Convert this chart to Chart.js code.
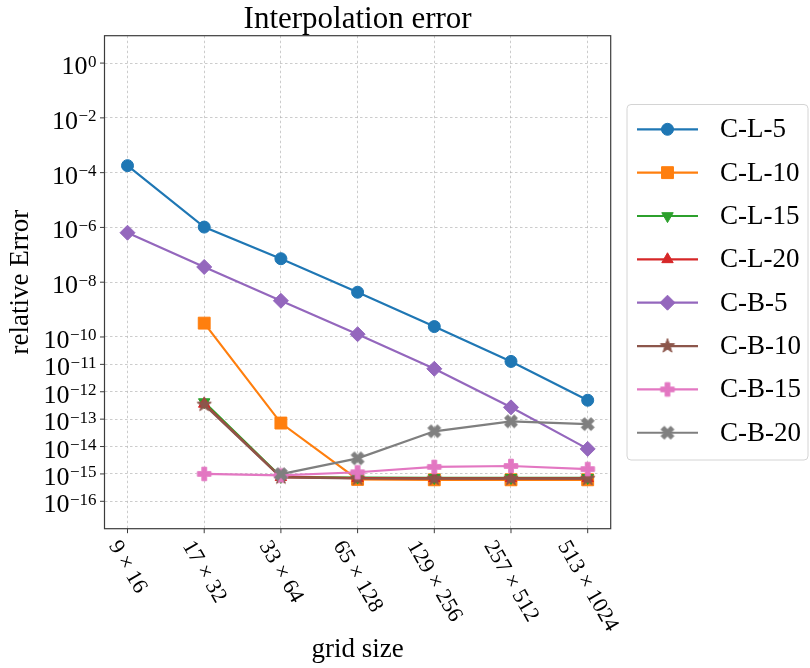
<!DOCTYPE html>
<html>
<head>
<meta charset="utf-8">
<script src="https://cdn.jsdelivr.net/npm/chart.js@4/dist/chart.umd.min.js"></script>
<style>
  html, body { margin: 0; padding: 0; background: #ffffff; }
  #wrap { width: 810px; height: 668px; }
</style>
</head>
<body>
<div id="wrap"><canvas id="chart" width="810" height="668"></canvas></div>
<script>
// Grid sizes along the x axis
const gridSizes = ['9 × 16', '17 × 32', '33 × 64', '65 × 128', '129 × 256', '257 × 512', '513 × 1024'];

// Relative interpolation error per method (null = not computed)
const errCL5  = [1.8e-4, 1.03e-6, 7.2e-8, 4.3e-9, 2.4e-10, 1.28e-11, 4.9e-13];
const errCL10 = [null, 3.2e-10, 7.2e-14, 6.3e-16, 6.1e-16, 6.1e-16, 6.1e-16];
const errCL15 = [null, 4.2e-13, 7.8e-16, 7.4e-16, 7.2e-16, 7.2e-16, 7.2e-16];
const errCL20 = [null, 3.6e-13, 7.6e-16, 7.0e-16, 6.9e-16, 6.9e-16, 6.9e-16];
const errCB5  = [6.4e-7, 3.6e-8, 2.1e-9, 1.26e-10, 6.9e-12, 2.7e-13, 8.2e-15];
const errCB10 = [null, 3.4e-13, 7.5e-16, 6.8e-16, 6.7e-16, 6.7e-16, 6.7e-16];
const errCB15 = [null, 1.0e-15, 8.8e-16, 1.15e-15, 1.8e-15, 1.95e-15, 1.5e-15];
const errCB20 = [null, null, 9.8e-16, 3.7e-15, 3.6e-14, 8.3e-14, 6.6e-14];

const seriesNames = ['C-L-5', 'C-L-10', 'C-L-15', 'C-L-20', 'C-B-5', 'C-B-10', 'C-B-15', 'C-B-20'];
const seriesValues = [errCL5, errCL10, errCL15, errCL20, errCB5, errCB10, errCB15, errCB20];

// Decade exponents that carry a labelled tick on the y axis
const yTickExponents = [0, -2, -4, -6, -8, -10, -11, -12, -13, -14, -15, -16];

const colors = ['#1f77b4', '#ff7f0e', '#2ca02c', '#d62728', '#9467bd', '#8c564b', '#e377c2', '#7f7f7f'];
const SERIF = '"Liberation Serif", "DejaVu Serif", serif';

// Filled marker images for shapes that have no built-in point style
function markerCanvas(kind, color, r) {
  const s = Math.ceil(r * 2 + 4) + (Math.ceil(r * 2 + 4) % 2);
  const c = document.createElement('canvas');
  c.width = s; c.height = s;
  const g = c.getContext('2d');
  g.translate(s / 2, s / 2);
  g.fillStyle = color; g.strokeStyle = color; g.lineWidth = 1; g.lineJoin = 'miter';
  g.beginPath();
  if (kind === 'star') {
    for (let i = 0; i < 10; i++) {
      const rr = i % 2 ? r * 0.40 : r;
      const a = -Math.PI / 2 + i * Math.PI / 5;
      g.lineTo(rr * Math.cos(a), rr * Math.sin(a));
    }
  } else {
    const w = r * 0.34;
    const pts = [[-w, -r], [w, -r], [w, -w], [r, -w], [r, w], [w, w], [w, r], [-w, r], [-w, w], [-r, w], [-r, -w], [-w, -w]];
    const rot = kind === 'x' ? Math.PI / 4 : 0;
    pts.forEach(([px, py]) => {
      g.lineTo(px * Math.cos(rot) - py * Math.sin(rot), px * Math.sin(rot) + py * Math.cos(rot));
    });
  }
  g.closePath(); g.fill(); g.stroke();
  return c;
}

const markerStyles = [
  { style: 'circle', radius: 6, rotation: 0 },
  { style: 'rect', radius: 8.4, rotation: 0 },
  { style: 'triangle', radius: 6.6, rotation: 180 },
  { style: 'triangle', radius: 6.6, rotation: 0 },
  { style: 'rectRot', radius: 7.5, rotation: 0 },
  { style: markerCanvas('star', colors[5], 7.5), radius: 6, rotation: 0 },
  { style: markerCanvas('plus', colors[6], 6.8), radius: 6, rotation: 0 },
  { style: markerCanvas('x', colors[7], 6.8), radius: 6, rotation: 0 }
];

const datasets = seriesValues.map((vals, k) => ({
  label: seriesNames[k],
  data: vals.map((v, i) => (v == null ? null : { x: i, y: v })).filter(p => p !== null),
  borderColor: colors[k],
  backgroundColor: colors[k],
  borderWidth: 2.2,
  pointStyle: markerStyles[k].style,
  pointRadius: markerStyles[k].radius,
  pointRotation: markerStyles[k].rotation,
  pointBorderWidth: 1,
  pointBorderColor: colors[k],
  pointBackgroundColor: colors[k],
  tension: 0,
  order: seriesNames.length - k
}));

function drawSuperLabel(ctx, base, exp, xRight, y, baseSize, expSize) {
  ctx.textAlign = 'right';
  ctx.textBaseline = 'alphabetic';
  ctx.font = expSize + 'px ' + SERIF;
  const ew = ctx.measureText(exp).width;
  ctx.fillText(exp, xRight, y + 3.5);
  ctx.font = baseSize + 'px ' + SERIF;
  ctx.fillText(base, xRight - ew - 0.5, y + 11);
}

const decorations = {
  id: 'decorations',
  afterDraw(chart) {
    const ctx = chart.ctx;
    const area = chart.chartArea;
    const xs = chart.scales.x, ys = chart.scales.y;
    ctx.save();
    ctx.fillStyle = '#000';

    // axes frame
    ctx.strokeStyle = '#3c3c3c';
    ctx.lineWidth = 1.2;
    ctx.strokeRect(area.left, area.top, area.right - area.left, area.bottom - area.top);

    // y ticks and labels
    ctx.lineWidth = 1;
    yTickExponents.forEach(e => {
      const y = ys.getPixelForValue(Math.pow(10, e));
      ctx.beginPath(); ctx.moveTo(area.left - 4.5, y); ctx.lineTo(area.left, y); ctx.stroke();
      drawSuperLabel(ctx, '10', e === 0 ? '0' : '\u2212' + Math.abs(e), area.left - 8, y, 26, 17);
    });

    // x ticks and rotated labels
    ctx.font = '22px ' + SERIF;
    const ang = Math.PI / 3;
    gridSizes.forEach((lab, i) => {
      const x = xs.getPixelForValue(i);
      ctx.beginPath(); ctx.moveTo(x, area.bottom); ctx.lineTo(x, area.bottom + 4.5); ctx.stroke();
      const w = ctx.measureText(lab).width, h = 24;
      const H = w * Math.sin(ang) + h * Math.cos(ang);
      ctx.save();
      ctx.translate(x, area.bottom + 8 + H / 2);
      ctx.rotate(ang);
      ctx.textAlign = 'center'; ctx.textBaseline = 'middle';
      ctx.fillText(lab, 0, 0);
      ctx.restore();
    });

    // title and axis titles
    const cx = (area.left + area.right) / 2;
    ctx.textAlign = 'center';
    ctx.textBaseline = 'alphabetic';
    ctx.font = '31px ' + SERIF;
    ctx.fillText('Interpolation error', cx, 27.5);
    ctx.font = '27px ' + SERIF;
    ctx.fillText('grid size', cx, 657);
    ctx.save();
    ctx.translate(21, (area.top + area.bottom) / 2);
    ctx.rotate(-Math.PI / 2);
    ctx.textBaseline = 'middle';
    ctx.fillText('relative Error', 0, 0);
    ctx.restore();

    // legend
    const bx = 627, by = 104.5, bw = 181, bh = 355.5, br = 4;
    ctx.beginPath();
    ctx.moveTo(bx + br, by);
    ctx.arcTo(bx + bw, by, bx + bw, by + bh, br);
    ctx.arcTo(bx + bw, by + bh, bx, by + bh, br);
    ctx.arcTo(bx, by + bh, bx, by, br);
    ctx.arcTo(bx, by, bx + bw, by, br);
    ctx.closePath();
    ctx.fillStyle = 'rgba(255,255,255,0.85)';
    ctx.fill();
    ctx.strokeStyle = '#d4d4d4';
    ctx.lineWidth = 1;
    ctx.stroke();

    seriesNames.forEach((name, k) => {
      const y = 129.3 + k * 43.35;
      ctx.strokeStyle = colors[k];
      ctx.lineWidth = 2.2;
      ctx.beginPath(); ctx.moveTo(637, y); ctx.lineTo(698, y); ctx.stroke();
      ctx.fillStyle = colors[k];
      ctx.lineWidth = 1;
      Chart.helpers.drawPoint(ctx, {
        pointStyle: markerStyles[k].style,
        radius: markerStyles[k].radius,
        rotation: markerStyles[k].rotation,
        borderWidth: 1
      }, 667.5, y);
      ctx.fillStyle = '#000';
      ctx.font = '27px ' + SERIF;
      ctx.textAlign = 'left';
      ctx.textBaseline = 'middle';
      ctx.fillText(name, 720, y + 1);
    });
    ctx.restore();
  }
};

new Chart(document.getElementById('chart'), {
  type: 'line',
  data: { datasets },
  options: {
    responsive: false,
    devicePixelRatio: 1,
    animation: false,
    layout: { padding: { left: 104.5, right: 199.3, top: 35.7, bottom: 139.3 } },
    plugins: { legend: { display: false }, title: { display: false }, tooltip: { enabled: false } },
    scales: {
      x: {
        type: 'linear',
        min: -0.3,
        max: 6.3,
        afterBuildTicks: s => { s.ticks = gridSizes.map((_, i) => ({ value: i })); },
        ticks: { display: false },
        grid: { color: 'rgba(170,170,170,0.75)', lineWidth: 0.8, drawTicks: false },
        border: { display: false, dash: [2.5, 2.5] }
      },
      y: {
        type: 'logarithmic',
        min: 1e-17,
        max: 1e1,
        bounds: 'data',
        afterBuildTicks: s => { s.ticks = yTickExponents.map(e => ({ value: Math.pow(10, e) })); },
        ticks: { display: false },
        grid: { color: 'rgba(170,170,170,0.75)', lineWidth: 0.8, drawTicks: false },
        border: { display: false, dash: [2.5, 2.5] }
      }
    }
  },
  plugins: [decorations]
});
</script>
</body>
</html>
